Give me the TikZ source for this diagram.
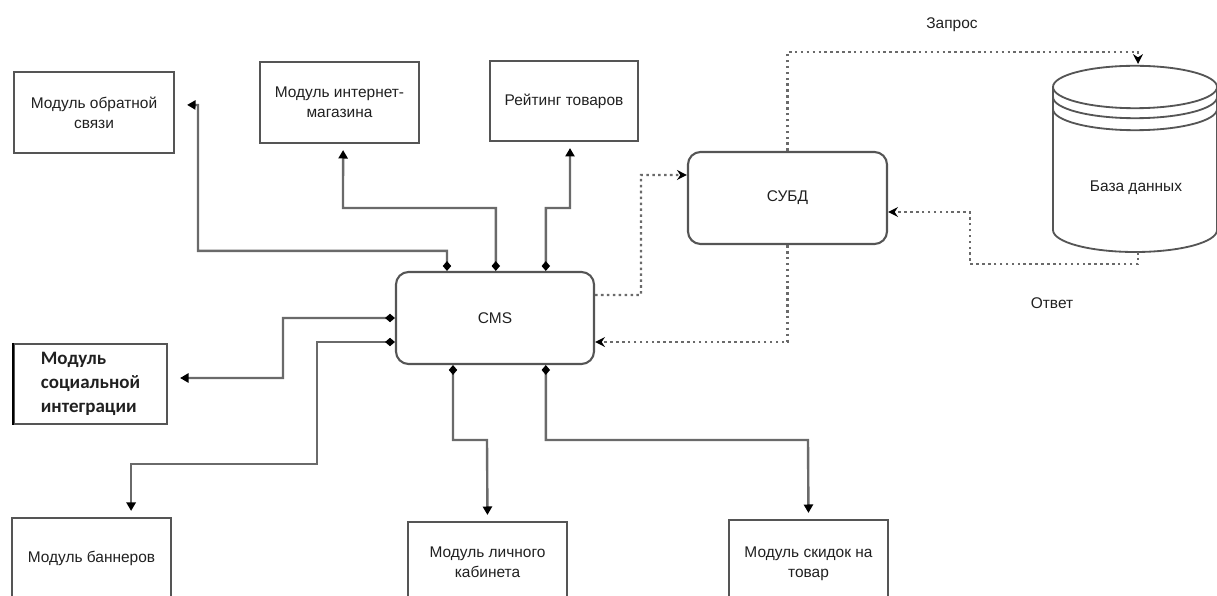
\documentclass[tikz,border=0pt]{standalone}
\usepackage{fontspec}
\setmainfont{Liberation Sans}
\newfontfamily\calibri{Carlito}
\definecolor{EdgeGray}{HTML}{555555}
\definecolor{LineGray}{HTML}{6A6A6A}
\definecolor{TextDark}{HTML}{202020}
\usetikzlibrary{arrows.meta,positioning}

\begin{document}
\begin{tikzpicture}[
  x=0.025cm, y=-0.025cm,
  module/.style={
    rectangle, draw=EdgeGray, line width=1.5pt,
    font=\fontsize{11pt}{14pt}\selectfont, align=center,
    text=TextDark, inner sep=2pt
  },
  core/.style={
    module, rounded corners=9pt,
    minimum width=4.95cm, minimum height=2.3cm
  },
  link/.style={
    draw=LineGray, line width=1.7pt,
    {Diamond[length=7pt,width=6pt,black]}-{Triangle[length=6pt,width=6.5pt,black]},
    shorten >=0.15cm
  },
  query/.style={
    draw=LineGray, line width=1.7pt,
    dash pattern=on 1.8pt off 2.4pt,
    -{Stealth[length=7pt,width=7pt,black]}
  },
  caption/.style={
    font=\fontsize{11pt}{14pt}\selectfont, text=TextDark
  }
]
  \useasboundingbox (0,0) rectangle (1217,596);

  % Modules round the CMS
  \node[module, minimum width=4cm, minimum height=2.025cm] (feedback)
    at (94,112.5) {Модуль обратной\\связи};
  \node[module, minimum width=3.975cm, minimum height=2.025cm] (shop)
    at (339.5,102.5) {Модуль интернет-\\магазина};
  \node[module, minimum width=3.7cm, minimum height=2cm] (rating)
    at (564,101) {Рейтинг товаров};
  \node[module, minimum width=3.825cm, minimum height=2cm,
    font=\calibri\bfseries\fontsize{13.5pt}{17pt}\selectfont,
    align=left] (social)
    at (90.5,384) {Модуль\\социальной\\интеграции};
  \draw[black, line width=1.8pt] (social.north west) -- (social.south west);
  \node[module, minimum width=3.975cm, minimum height=2.5cm,
    text depth=0.55cm] (banner)
    at (91.5,568) {Модуль баннеров};
  \node[module, minimum width=3.975cm, minimum height=2.5cm,
    text depth=0.5cm] (cabinet)
    at (487.5,572) {Модуль личного\\кабинета};
  \node[module, minimum width=3.975cm, minimum height=2.5cm,
    text depth=0.4cm] (discount)
    at (808.5,570) {Модуль скидок на\\товар};

  % Core blocks
  \node[core] (cms) at (495,318) {CMS};
  \node[core, minimum width=4.975cm] (dbms) at (787.5,198) {СУБД};

  % Database cylinder
  \draw[EdgeGray, line width=1.3pt]
    (1053,87) -- (1053,230)
    arc[start angle=180, end angle=360, x radius=2.05cm, y radius=0.55cm]
    -- (1217,87);
  \draw[EdgeGray, line width=1.3pt]
    (1135,87) ellipse [x radius=2.05cm, y radius=0.53cm];
  \draw[EdgeGray, line width=1.3pt]
    (1053,97) arc[start angle=180, end angle=360, x radius=2.05cm, y radius=0.53cm];
  \draw[EdgeGray, line width=1.3pt]
    (1053,109) arc[start angle=180, end angle=360, x radius=2.05cm, y radius=0.53cm];
  \node[caption] (db) at (1136,188) {База данных};
  \coordinate (dbtop) at (1138,64);
  \coordinate (dbbot) at (1138,252);

  % CMS links
  \draw[link] ([xshift=-1.2cm]cms.north) -- ++(0,-20) -| (198,105)
    -- ([xshift=0.15cm,yshift=0.19cm]feedback.east);
  \draw[link] ([xshift=0.02cm]cms.north) |- (343,208)
    -- ([xshift=0.09cm]shop.south);
  \draw[link] ([xshift=1.27cm]cms.north) |- (570,208)
    -- ([xshift=0.15cm]rating.south);
  \draw[link] (cms.west) -| (283,378)
    -- ([xshift=0.15cm,yshift=0.15cm]social.east);
  \draw[link] ([yshift=-0.6cm]cms.west) -| (317,464) -| ([xshift=0.99cm]banner.north);
  \draw[link] ([xshift=-1.05cm]cms.south) |- (487,440) -- (cabinet.north);
  \draw[link] ([xshift=1.27cm]cms.south) |- (808,440) -- (discount.north);

  % Query and answer
  \draw[query] ([yshift=0.575cm]cms.east) -| (641,175)
    -- ([yshift=0.575cm]dbms.west);
  \draw[query] (dbms.north) |- (1138,52) -- (dbtop);
  \draw[query] (dbbot) |- (970,264) |- ([yshift=-0.35cm]dbms.east);
  \draw[query] (dbms.south) |- ([yshift=-0.6cm]cms.east);

  \node[caption] (ask) at (952,25) {Запрос};
  \node[caption] (reply) at (1052,303) {Ответ};
\end{tikzpicture}
\end{document}
